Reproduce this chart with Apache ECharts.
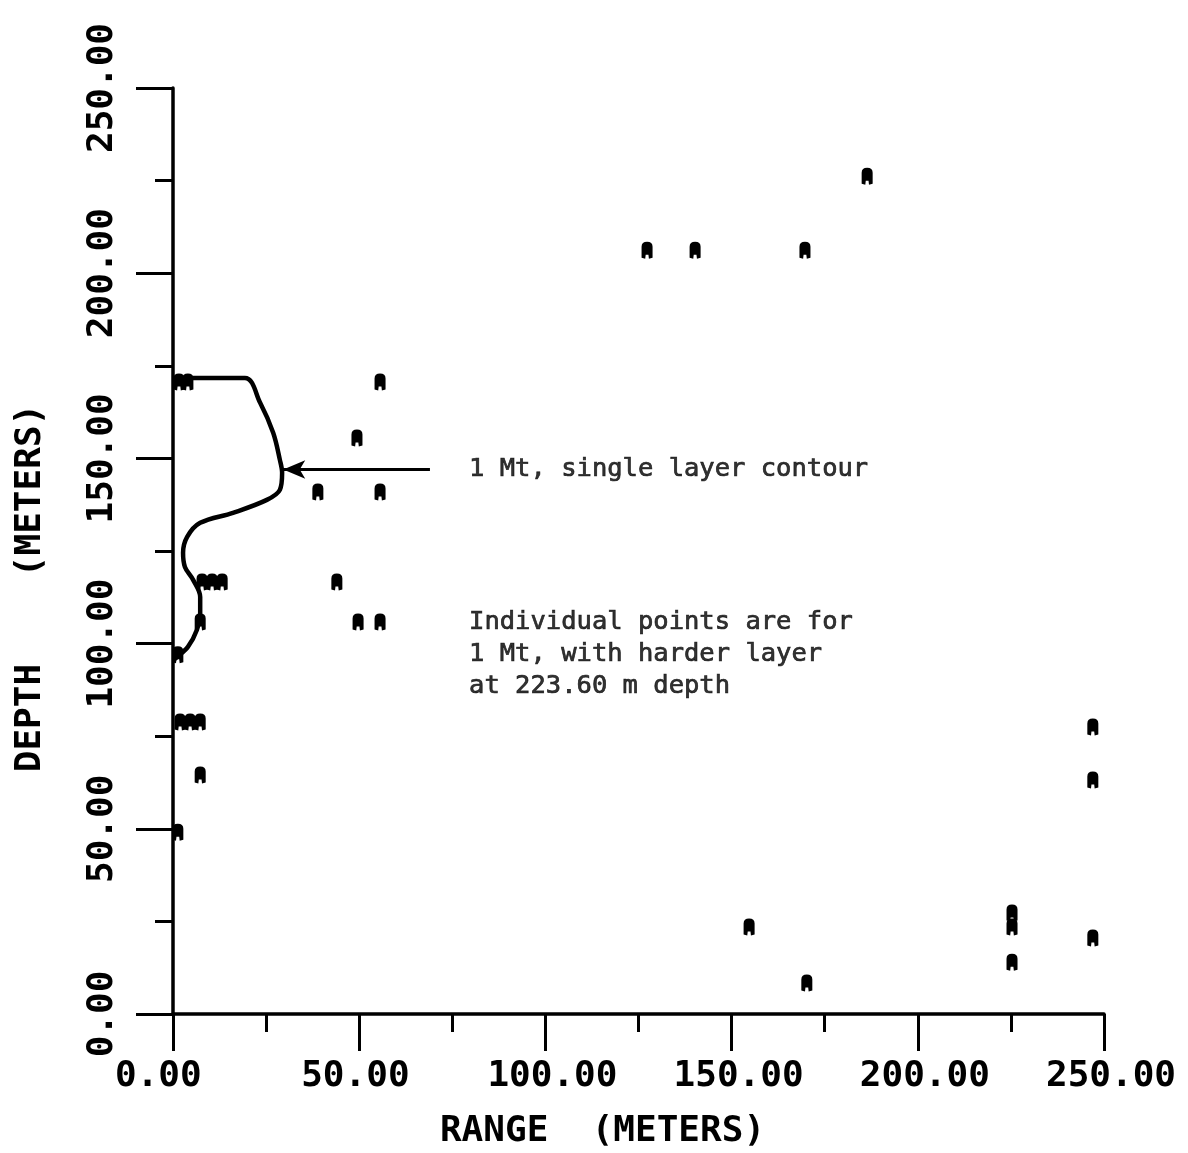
<!DOCTYPE html>
<html>
<head>
<meta charset="utf-8">
<script src="https://cdn.jsdelivr.net/npm/echarts@6/dist/echarts.min.js"></script>
<style>
  html, body { margin: 0; padding: 0; background: #fff; }
  #chart { width: 1188px; height: 1153px; }
</style>
</head>
<body>
<div id="chart"></div>
<script>
// individual points (1 Mt, harder layer at 223.60 m)
const pointRange = [127.3, 140.2, 169.7, 186.4, 55.6, 49.4, 38.9, 55.6, 44.0, 49.7, 55.6,
  1.6, 4.0, 7.8, 10.5, 13.2, 7.3, 1.3, 1.9, 4.6, 7.3, 7.3, 1.3,
  154.7, 170.2, 225.3, 225.3, 225.3, 247.0, 247.0, 247.0];
const pointDepth = [206.2, 206.2, 206.2, 226.2, 170.6, 155.5, 140.9, 140.9, 116.6, 105.8, 105.8,
  170.6, 170.6, 116.6, 116.6, 116.6, 105.8, 97.0, 78.8, 78.8, 78.8, 64.5, 49.1,
  23.5, 8.4, 27.3, 23.5, 14.0, 77.5, 63.2, 20.5];

// single layer contour
const contourRange = [0, 19.3, 23.4, 26.9, 28.7, 29.3, 28.7, 25.2, 16.1, 7.3, 3.8, 2.7, 3.2,
  5.4, 7.3, 7.3, 6.4, 4.0, 1.1, 0];
const contourDepth = [171.7, 171.7, 165.0, 156.9, 149.6, 146.1, 141.5, 138.8, 135.3, 132.6,
  128.8, 124.5, 120.7, 117.2, 112.6, 108.3, 103.7, 99.1, 96.4, 95.6];

// arrow pointing at the contour
const arrowRange = [69.0, 29.6];
const arrowDepth = [147.0, 147.0];

const noteContour = "1 Mt, single layer contour";
const notePoints = "Individual points are for\n1 Mt, with harder layer\nat 223.60 m depth";
const notePos = [[79.5, 147.0], [79.5, 97.2]];

const plotFont = "DejaVu Sans Mono";
const glyphA = "path://M0,16 L0,5 Q0,0 6,0 Q12,0 12,5 L12,16 L8,17 L7.5,13 L4.5,13 L4,17 Z";

const chart = echarts.init(document.getElementById("chart"));

const axisCommon = {
  type: "value",
  min: 0,
  max: 250,
  interval: 50,
  axisLine: { lineStyle: { color: "#000", width: 3.5 } },
  axisTick: { inside: false, length: 37, lineStyle: { color: "#000", width: 3 } },
  minorTick: { show: true, splitNumber: 2, length: 18, lineStyle: { color: "#000", width: 3 } },
  splitLine: { show: false },
  nameLocation: "middle",
  nameTextStyle: { fontFamily: plotFont, fontWeight: "bold", fontSize: 36, color: "#000" },
};

chart.setOption({
  backgroundColor: "#fff",
  animation: false,
  grid: { left: 173, right: 84, top: 88, bottom: 139, outerBoundsMode: "none" },
  xAxis: Object.assign({}, axisCommon, {
    name: "RANGE  (METERS)",
    nameGap: 100,
    nameTextStyle: Object.assign({}, axisCommon.nameTextStyle, { padding: [0, 72, 0, 0] }),
    axisLabel: {
      margin: 45,
      formatter: (v) => "{t|" + v.toFixed(2) + "}",
      rich: {
        t: { width: 116, align: "left", fontFamily: plotFont, fontWeight: "bold", fontSize: 36, color: "#000" },
      },
    },
  }),
  yAxis: Object.assign({}, axisCommon, {
    name: "DEPTH    (METERS)",
    nameGap: 124,
    nameTextStyle: Object.assign({}, axisCommon.nameTextStyle, { padding: [0, 74, 0, 0] }),
    axisLabel: {
      margin: 52,
      rotate: 90,
      formatter: (v) => v.toFixed(2),
      fontFamily: plotFont,
      fontWeight: "bold",
      fontSize: 36,
      color: "#000",
    },
  }),
  series: [
    {
      name: "contour",
      type: "line",
      data: contourRange.map((x, i) => [x, contourDepth[i]]),
      smooth: 0.35,
      symbol: "none",
      lineStyle: { color: "#000", width: 4.5 },
      markLine: {
        silent: true,
        symbol: ["none", "arrow"],
        symbolSize: [14, 22],
        lineStyle: { color: "#000", width: 3, type: "solid" },
        label: { show: false },
        data: [[
          { coord: [arrowRange[0], arrowDepth[0]] },
          { coord: [arrowRange[1], arrowDepth[1]] },
        ]],
      },
    },
    {
      name: "points",
      type: "scatter",
      data: pointRange.map((x, i) => [x, pointDepth[i]]),
      symbol: glyphA,
      symbolSize: [11, 17],
      itemStyle: { color: "#000", opacity: 1 },
    },
    {
      name: "notes",
      type: "scatter",
      symbolSize: 0,
      data: [
        { value: notePos[0], label: { formatter: noteContour } },
        { value: notePos[1], label: { formatter: notePoints } },
      ],
      label: {
        show: true,
        position: "right",
        distance: 0,
        align: "left",
        verticalAlign: "middle",
        fontFamily: plotFont,
        fontSize: 25.5,
        lineHeight: 32,
        color: "#000",
        textBorderColor: "#000",
        textBorderWidth: 0.7,
      },
    },
  ],
});

window.addEventListener("resize", () => {
  chart.resize();
});
</script>
</body>
</html>
